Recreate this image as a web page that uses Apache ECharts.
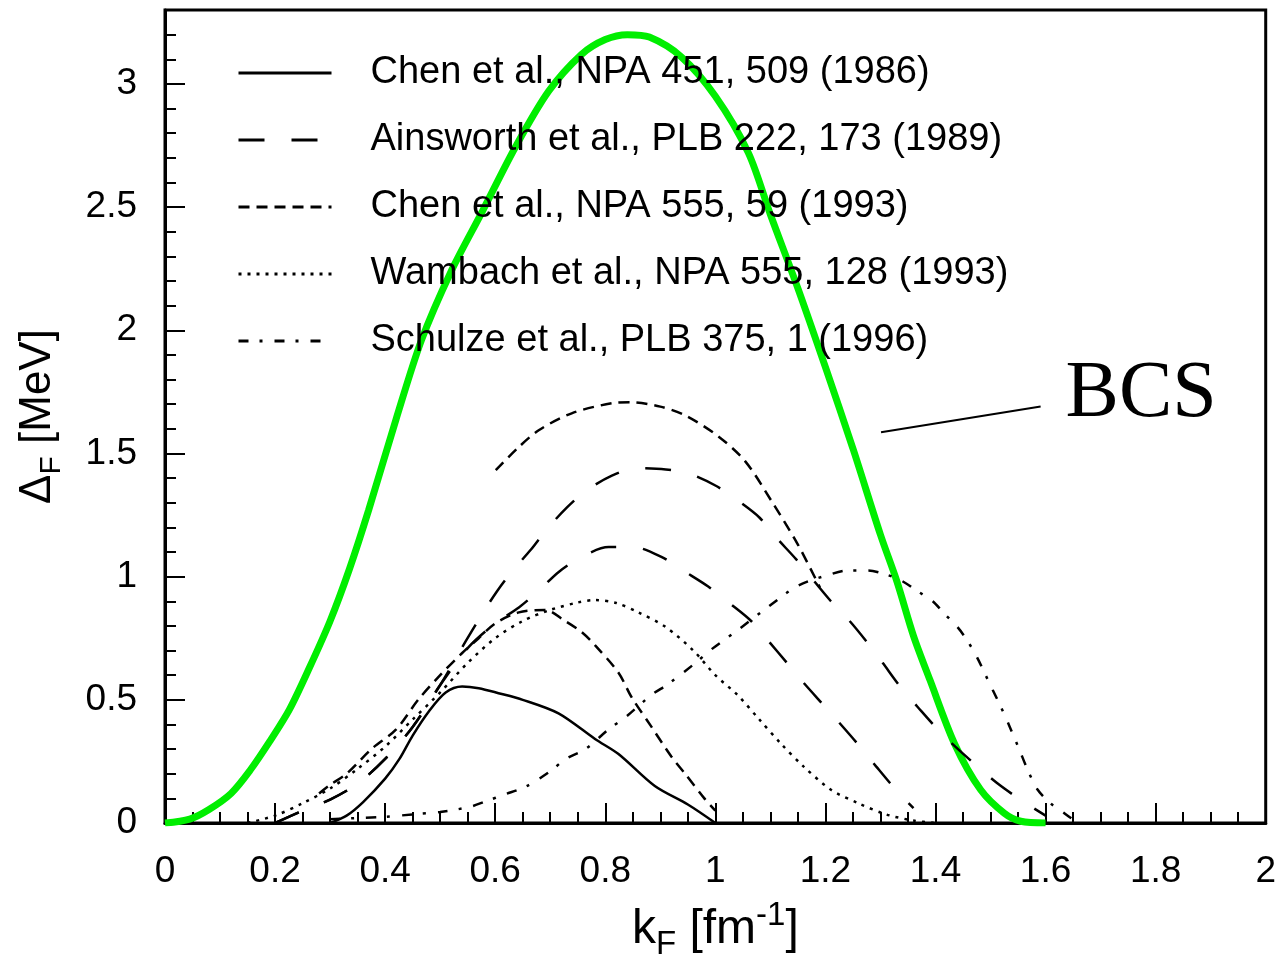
<!DOCTYPE html>
<html><head><meta charset="utf-8">
<script src="https://cdn.jsdelivr.net/npm/echarts@6/dist/echarts.min.js"></script>
<style>html,body{margin:0;padding:0;background:#fff}#c{width:1279px;height:966px}</style>
</head><body><div id="c"></div>
<script>
// ---- data (k_F in fm^-1, gap in MeV) ----
const legendNames = [
  'Chen et al., NPA 451, 509 (1986)',
  'Ainsworth et al., PLB 222, 173 (1989)',
  'Chen et al., NPA 555, 59 (1993)',
  'Wambach et al., NPA 555, 128 (1993)',
  'Schulze et al., PLB 375, 1 (1996)'
];

const bcsX = [0, 0.045, 0.08, 0.12, 0.155, 0.19, 0.226, 0.263, 0.3, 0.335, 0.37, 0.42, 0.466, 0.52, 0.576, 0.637, 0.697, 0.757, 0.8, 0.84, 0.88, 0.938, 1.0, 1.06, 1.1, 1.15, 1.2, 1.25, 1.3, 1.33, 1.36, 1.39, 1.435, 1.482, 1.525, 1.555, 1.6];
const bcsY = [0, 0.016, 0.055, 0.12, 0.215, 0.33, 0.46, 0.633, 0.82, 1.03, 1.27, 1.64, 1.96, 2.24, 2.48, 2.745, 2.97, 3.12, 3.18, 3.2, 3.19, 3.11, 2.95, 2.72, 2.47, 2.17, 1.85, 1.52, 1.17, 0.98, 0.76, 0.58, 0.32, 0.135, 0.04, 0.007, 0];

const chen86X = [0.3, 0.33, 0.36, 0.4, 0.426, 0.45, 0.48, 0.51, 0.54, 0.57, 0.606, 0.65, 0.715, 0.782, 0.824, 0.89, 0.95, 1.0];
const chen86Y = [0, 0.03, 0.085, 0.18, 0.26, 0.355, 0.455, 0.53, 0.554, 0.547, 0.527, 0.5, 0.445, 0.34, 0.28, 0.15, 0.075, 0];

const ainsAX = [0.2, 0.25, 0.3, 0.35, 0.4, 0.45, 0.5, 0.547, 0.574, 0.603, 0.63, 0.665, 0.693, 0.73, 0.766, 0.812, 0.855, 0.91, 0.95, 1.0, 1.04, 1.08, 1.11, 1.147, 1.18, 1.21, 1.244, 1.277, 1.304, 1.337, 1.368, 1.404, 1.436, 1.476, 1.513, 1.554, 1.6];
const ainsAY = [0, 0.05, 0.095, 0.16, 0.26, 0.39, 0.56, 0.74, 0.84, 0.94, 1.02, 1.11, 1.19, 1.28, 1.35, 1.41, 1.44, 1.435, 1.42, 1.37, 1.31, 1.24, 1.16, 1.07, 0.98, 0.90, 0.82, 0.73, 0.65, 0.55, 0.47, 0.38, 0.31, 0.23, 0.16, 0.095, 0.03];

const ainsBX = [0.2, 0.25, 0.3, 0.35, 0.4, 0.45, 0.5, 0.55, 0.6, 0.643, 0.679, 0.716, 0.757, 0.806, 0.851, 0.902, 0.945, 0.987, 1.027, 1.065, 1.096, 1.13, 1.16, 1.196, 1.228, 1.259, 1.292, 1.326, 1.36];
const ainsBY = [0, 0.05, 0.095, 0.16, 0.26, 0.39, 0.56, 0.71, 0.81, 0.875, 0.943, 1.02, 1.08, 1.12, 1.12, 1.08, 1.02, 0.96, 0.89, 0.82, 0.74, 0.65, 0.57, 0.48, 0.40, 0.32, 0.23, 0.14, 0.06];

const chen93AX = [0.28, 0.3, 0.33, 0.375, 0.42, 0.46, 0.5, 0.54, 0.57, 0.6, 0.643, 0.69, 0.727, 0.757, 0.782, 0.824, 0.848, 0.884, 0.92, 0.945, 0.98, 1.0];
const chen93AY = [0.12, 0.155, 0.2, 0.3, 0.38, 0.5, 0.6, 0.69, 0.75, 0.81, 0.855, 0.865, 0.82, 0.775, 0.72, 0.61, 0.51, 0.39, 0.27, 0.2, 0.1, 0.05];

const chen93BX = [0.601, 0.64, 0.679, 0.739, 0.812, 0.846, 0.9, 0.945, 1.005, 1.054, 1.102, 1.15, 1.19];
const chen93BY = [1.432, 1.52, 1.594, 1.663, 1.704, 1.708, 1.69, 1.655, 1.57, 1.469, 1.307, 1.13, 0.956];

const wambX = [0.15, 0.2, 0.25, 0.3, 0.35, 0.4, 0.45, 0.5, 0.55, 0.6, 0.65, 0.7, 0.75, 0.78, 0.82, 0.86, 0.91, 0.96, 1.0, 1.04, 1.08, 1.12, 1.16, 1.21, 1.26, 1.31, 1.36, 1.4];
const wambY = [0, 0.03, 0.08, 0.14, 0.22, 0.31, 0.42, 0.53, 0.65, 0.75, 0.82, 0.865, 0.895, 0.905, 0.893, 0.855, 0.795, 0.70, 0.60, 0.52, 0.42, 0.32, 0.23, 0.135, 0.08, 0.035, 0.01, 0];

const schuX = [0.3, 0.35, 0.4, 0.45, 0.5, 0.553, 0.583, 0.616, 0.656, 0.7, 0.728, 0.764, 0.806, 0.837, 0.884, 0.915, 0.964, 0.993, 1.042, 1.09, 1.15, 1.21, 1.24, 1.277, 1.308, 1.337, 1.368, 1.395, 1.416, 1.44, 1.458, 1.476, 1.49, 1.504, 1.518, 1.534, 1.552, 1.567, 1.585, 1.609, 1.634, 1.654];
const schuY = [0.015, 0.02, 0.025, 0.035, 0.045, 0.065, 0.088, 0.115, 0.148, 0.21, 0.26, 0.30, 0.38, 0.43, 0.52, 0.565, 0.65, 0.705, 0.785, 0.867, 0.963, 1.01, 1.025, 1.025, 1.01, 0.985, 0.94, 0.90, 0.85, 0.795, 0.74, 0.67, 0.605, 0.54, 0.475, 0.395, 0.30, 0.218, 0.137, 0.08, 0.04, 0.007];

// annotation pointer for "BCS"
const bcsPointerX = [1.301, 1.591];
const bcsPointerY = [1.586, 1.691];
const bcsText = 'BCS';

// axes
const xMin = 0, xMax = 2, xStep = 0.2;
const yMin = 0, yMax = 3.3, yStep = 0.5, yMinorStep = 0.1;

// ---- build ----
const zip = (xs, ys) => xs.map((x, i) => [x, ys[i]]);
const FONT = 'Liberation Sans, Arial, Helvetica, sans-serif';
const BLK = '#000';

function curve(name, xs, ys, dash, width, color, z) {
  return {
    name, type: 'line', data: zip(xs, ys), symbol: 'none', smooth: 0.3,
    lineStyle: { color: color || BLK, width: width || 2.5, type: dash || 'solid' },
    itemStyle: { color: color || BLK },
    z: z || 3, silent: true
  };
}

const LONG = [26, 27], SHORT = [11, 7], DOT = [3, 6], DASHDOT = [10, 11, 3, 12];

const chart = echarts.init(document.getElementById('c'), null, { renderer: 'canvas' });
chart.setOption({
  animation: false,
  backgroundColor: '#fff',
  grid: { left: 165, right: 10, top: 10, bottom: 139, show: true, borderColor: BLK, borderWidth: 3, backgroundColor: 'transparent' },
  legend: {
    data: legendNames, orient: 'vertical', left: 232, top: 48,
    itemWidth: 93, itemHeight: 20, itemGap: 27,
    itemStyle: { opacity: 0, color: 'transparent', borderWidth: 0 },
    lineStyle: { width: 3 },
    textStyle: { fontFamily: FONT, fontSize: 38, color: BLK, lineHeight: 40, padding: [0, 0, 0, 34] },
    selectedMode: false
  },
  xAxis: {
    type: 'value', min: xMin, max: xMax, interval: xStep,
    axisLine: { show: true, lineStyle: { color: BLK, width: 3 } },
    axisTick: { show: true, inside: true, length: 20, lineStyle: { color: BLK, width: 2 } },
    minorTick: { show: true, splitNumber: 4, length: 11, lineStyle: { color: BLK, width: 2 } },
    splitLine: { show: false }, minorSplitLine: { show: false },
    axisLabel: { fontFamily: FONT, fontSize: 37, color: BLK, margin: 30 },
    name: '{a|k}{b|F}{a| [fm}{c|-1}{a|]}', nameLocation: 'middle', nameGap: 76,
    nameTextStyle: {
      rich: {
        a: { fontFamily: FONT, fontSize: 48, color: BLK, lineHeight: 62 },
        b: { fontFamily: FONT, fontSize: 33, color: BLK, lineHeight: 30, verticalAlign: 'bottom' },
        c: { fontFamily: FONT, fontSize: 33, color: BLK, lineHeight: 30, verticalAlign: 'top' }
      }
    }
  },
  yAxis: [{
    type: 'value', min: yMin, max: yMax, interval: yStep,
    axisLine: { show: true, lineStyle: { color: BLK, width: 3 } },
    axisTick: { show: true, inside: true, length: 20, lineStyle: { color: BLK, width: 2 } },
    splitLine: { show: false },
    axisLabel: { fontFamily: FONT, fontSize: 37, color: BLK, margin: 28, showMaxLabel: false,
      formatter: v => (Math.abs(v / yStep - Math.round(v / yStep)) < 1e-6 ? String(v) : '') },
    name: '{a|Δ}{b|F}{a| [MeV]}', nameLocation: 'middle', nameGap: 98, nameRotate: 90,
    nameTextStyle: {
      rich: {
        a: { fontFamily: FONT, fontSize: 44, color: BLK, lineHeight: 58 },
        b: { fontFamily: FONT, fontSize: 30, color: BLK, lineHeight: 28, verticalAlign: 'bottom' }
      }
    }
  }, {
    type: 'value', min: yMin, max: yMax, interval: yMinorStep, position: 'left', offset: 0,
    axisLine: { show: false }, axisLabel: { show: false }, splitLine: { show: false },
    axisTick: { show: true, inside: true, length: 11, lineStyle: { color: BLK, width: 2 } }
  }],
  series: [
    curve('BCS', bcsX, bcsY, 'solid', 7, '#00ee00', 2),
    curve(legendNames[0], chen86X, chen86Y, 'solid', 2.5),
    curve(legendNames[1], ainsAX, ainsAY, LONG, 2.5),
    curve(legendNames[1], ainsBX, ainsBY, LONG, 2.5),
    curve(legendNames[2], chen93AX, chen93AY, SHORT, 2.5),
    curve(legendNames[2], chen93BX, chen93BY, SHORT, 2.5),
    curve(legendNames[3], wambX, wambY, DOT, 2.5),
    curve(legendNames[4], schuX, schuY, DASHDOT, 2.5),
    {
      name: 'bcsPointer', type: 'line', data: zip(bcsPointerX, bcsPointerY), symbol: 'none', silent: true,
      lineStyle: { color: BLK, width: 2 },
      endLabel: { show: true, formatter: bcsText, fontFamily: 'Liberation Serif, Times New Roman, serif',
        fontSize: 80, color: BLK, distance: 0, offset: [25, -11] }
    }
  ]
});
</script>
</body></html>
